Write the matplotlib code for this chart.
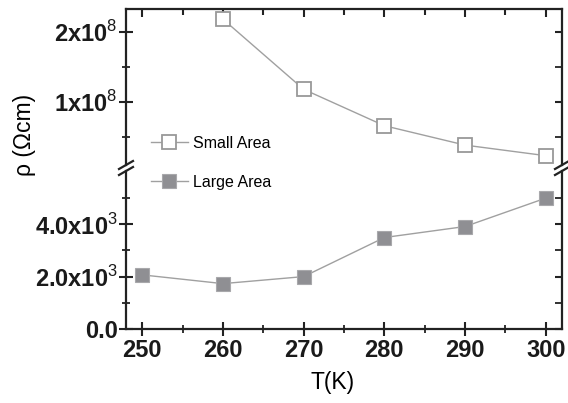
import matplotlib
matplotlib.use('Agg')
import matplotlib.pyplot as plt
from matplotlib.lines import Line2D
from matplotlib.ticker import MultipleLocator, FixedLocator

plt.rcParams['font.family'] = ['Liberation Sans', 'DejaVu Sans']
plt.rcParams['mathtext.fontset'] = 'custom'
plt.rcParams['mathtext.rm'] = 'Liberation Sans'
plt.rcParams['mathtext.bf'] = 'Liberation Sans:bold'

# data
temps = [250, 260, 270, 280, 290, 300]
small_T = [260, 270, 280, 290, 300]
small_rho = [2.18e8, 1.177e8, 0.657e8, 0.38e8, 0.229e8]
large_rho = [2070, 1737, 2004, 3490, 3909, 4990]

top_ticks = [1e8, 2e8]
top_labels = [r'$\mathbf{1x10}^{8}$', r'$\mathbf{2x10}^{8}$']
low_ticks = [0, 2000, 4000]
low_labels = ['0.0', r'$\mathbf{2.0x10}^{3}$', r'$\mathbf{4.0x10}^{3}$']

W, H = 568, 403
fig = plt.figure(figsize=(W / 100, H / 100), dpi=100)

left, right = 126, 562
top_y, brk_hi, brk_lo, bot_y = 9.3, 165, 171, 329.3

ax_top = fig.add_axes([left / W, 1 - brk_hi / H, (right - left) / W, (brk_hi - top_y) / H])
ax_low = fig.add_axes([left / W, 1 - bot_y / H, (right - left) / W, (bot_y - brk_lo) / H])

line_c = '#a0a0a0'
ax_top.plot(small_T, small_rho, '-', color=line_c, lw=1.0, marker='s', ms=10,
            mfc='white', mec='#999999', mew=1.3, clip_on=False, zorder=3)
ax_low.plot(temps, large_rho, '-', color=line_c, lw=1.0, marker='s', ms=10,
            mfc='#8f8f93', mec='#a8a8ab', mew=0.8, clip_on=False, zorder=3)

for ax in (ax_top, ax_low):
    ax.set_xlim(248, 302)
    for s in ax.spines.values():
        s.set_linewidth(1.6)
        s.set_color('#222222')
    ax.xaxis.set_major_locator(MultipleLocator(10))
    ax.xaxis.set_minor_locator(MultipleLocator(5))

ax_top.set_ylim(0.096e8, 2.32e8)
ax_low.set_ylim(0, 6020)

ax_top.spines['bottom'].set_visible(False)
ax_low.spines['top'].set_visible(False)

ax_top.yaxis.set_major_locator(FixedLocator(top_ticks))
ax_top.yaxis.set_minor_locator(FixedLocator([0.5e8, 1.5e8]))
ax_top.set_yticklabels(top_labels)
ax_low.yaxis.set_major_locator(FixedLocator(low_ticks))
ax_low.yaxis.set_minor_locator(FixedLocator([1000, 3000, 5000]))
ax_low.set_yticklabels(low_labels)

for ax in (ax_top, ax_low):
    ax.tick_params(axis='y', which='major', direction='inout', length=10, width=1.5,
                   labelsize=17, pad=1, right=True, color='#222222', labelcolor='#1a1a1a')
    ax.tick_params(axis='y', which='minor', direction='inout', length=6, width=1.3,
                   right=True, color='#222222')
    for t in ax.get_yticklabels():
        t.set_fontweight('bold')

# right side ticks inward only
for ax in (ax_top, ax_low):
    for tick in ax.yaxis.get_major_ticks() + ax.yaxis.get_minor_ticks():
        tick.tick2line.set_marker(0)
        tick.tick2line.set_markersize(5)

ax_top.tick_params(axis='x', which='both', bottom=False, labelbottom=False, top=True,
                   direction='in', width=1.5, color='#222222')
ax_top.tick_params(axis='x', which='major', length=6)
ax_top.tick_params(axis='x', which='minor', length=4)

ax_low.tick_params(axis='x', which='major', direction='inout', length=10, width=1.5,
                   labelsize=17, pad=2, top=False, color='#222222', labelcolor='#1a1a1a')
ax_low.tick_params(axis='x', which='minor', direction='inout', length=6, width=1.3,
                   top=False, color='#222222')
for t in ax_low.get_xticklabels():
    t.set_fontweight('bold')

# break marks
for x in (left, right):
    for yy in (brk_hi, brk_lo):
        fig.add_artist(Line2D([(x - 7) / W, (x + 7) / W],
                              [1 - (yy + 4) / H, 1 - (yy - 4) / H],
                              color='#222222', lw=1.6))

fig.text(25 / W, 1 - 135 / H, 'ρ (Ωcm)', rotation=90, ha='center', va='center', fontsize=16.5)
fig.text(333 / W, 1 - 383 / H, 'T(K)', ha='center', va='center', fontsize=16.5)

handles = [
    Line2D([], [], color=line_c, lw=1.0, marker='s', ms=10, mfc='white', mec='#999999', mew=1.3),
    Line2D([], [], color=line_c, lw=1.0, marker='s', ms=10, mfc='#8f8f93', mec='#a8a8ab', mew=0.8),
]
fig.legend(handles, ['Small Area', 'Large Area'], loc='upper left',
           bbox_to_anchor=(151 / W, 1 - 136 / H), frameon=False, fontsize=11.5,
           handlelength=2.3, handletextpad=0.3, labelspacing=1.5, borderpad=0,
           borderaxespad=0)

fig.savefig('out.png', dpi=100)
